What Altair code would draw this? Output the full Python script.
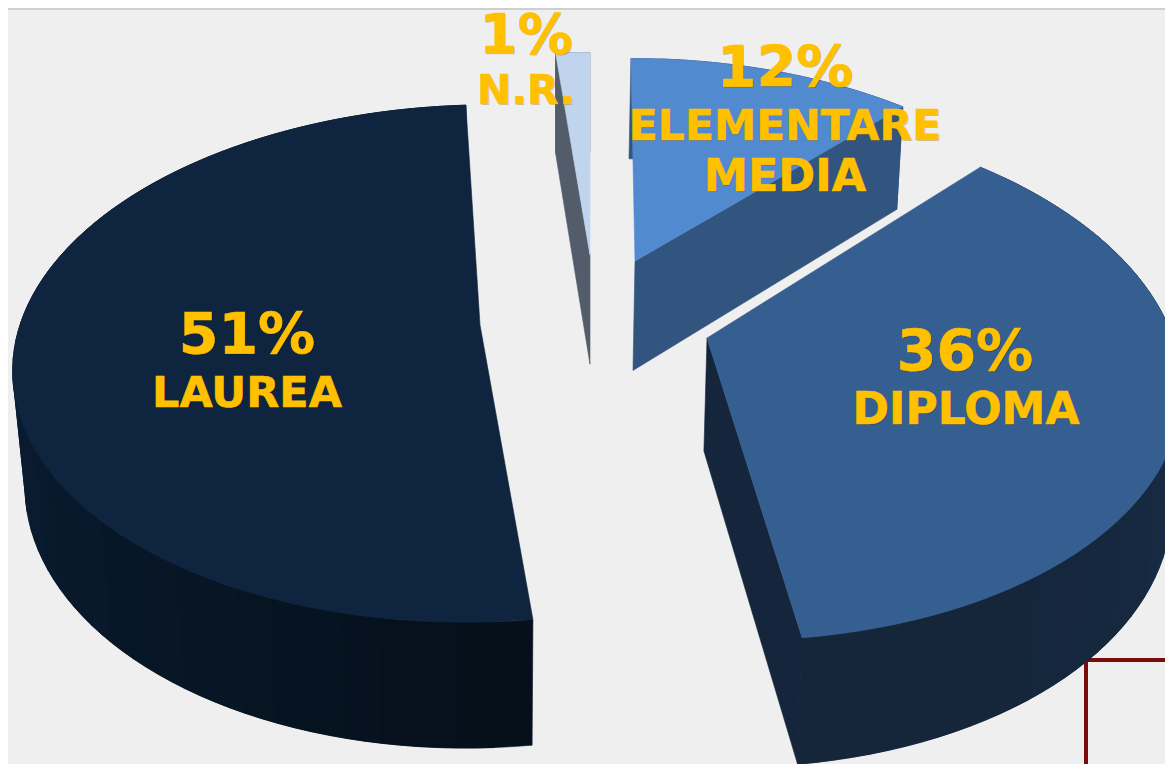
import math
import altair as alt
import pandas as pd

# values
slice_names = ["ELEMENTARE MEDIA", "DIPLOMA", "LAUREA", "N.R."]
shares = [12.0, 36.0, 51.0, 1.0]
tops = ["#528ad0", "#365f91", "#0f243e", "#c0d4ee"]
faces = ["#32557f", "#15263c", "#0a1c30", "#525c6a"]
side_near = ["#32557f", "#1c3450", "#05101b", "#525c6a"]
side_far = ["#32557f", "#15263b", "#0c2038", "#525c6a"]
apex_x = [635, 707, 480, 590]
apex_y = [261, 338, 325, 255]
radius_x = [449, 466, 460, 650]
radius_y = [240, 259, 253, 240]
tilt = [0.185, 0.144, 0.149, 0.185]
shear = [0.02, 0.09, -0.05, 0.0]
converge = [0.985, 0.985, 0.975, 1.0]

depth_base = 100
depth_slope = 0.045
vanish_x = 500

label_text = ["51%", "LAUREA", "36%", "DIPLOMA", "12%", "ELEMENTARE", "MEDIA", "1%", "N.R."]
label_x = [247, 247, 965, 966, 785, 785, 785, 526, 526]
label_y = [354, 407, 371, 424, 87, 140, 191, 53, 104]
label_size = [57, 43, 57, 44, 57, 42.5, 44.5, 55, 41]

W, H = 1157, 756


def top_point(i, deg):
    t = math.radians(deg)
    u, v = math.sin(t), -math.cos(t)
    w = 1 - tilt[i] * v
    dy = radius_y[i] * v / w
    return apex_x[i] + radius_x[i] * u / w + shear[i] * dy, apex_y[i] + dy


def bottom(i, p):
    x, y = p
    return vanish_x + (x - vanish_x) * converge[i], y + depth_base + depth_slope * (y - 50)


def mix(a, b, f):
    ca = [int(a[k:k + 2], 16) for k in (1, 3, 5)]
    cb = [int(b[k:k + 2], 16) for k in (1, 3, 5)]
    return "#%02x%02x%02x" % tuple(round(x + (y - x) * f) for x, y in zip(ca, cb))


rows = []
pid = 0


def poly(points, color):
    global pid
    pid += 1
    closed = list(points) + [points[0]]
    for k, (x, y) in enumerate(closed):
        rows.append({"x": x, "y": y, "pid": pid, "ord": k, "col": color})


starts = []
acc = 0.0
for s in shares:
    starts.append(acc * 3.6)
    acc += s

for i in [3, 0, 2, 1]:
    a0 = starts[i]
    a1 = a0 + shares[i] * 3.6
    apex = (apex_x[i], apex_y[i])
    # curved wall, painted in overlapping bands so that no seam shows
    n = max(1, int((a1 - a0) / 4))
    for k in reversed(range(n)):
        d0 = a0 + (a1 - a0) * k / n
        d1 = a0 + (a1 - a0) * (k + 1) / n
        d2 = min(a1, d1 + (a1 - a0) / n)
        sub = [d0 + (d2 - d0) * j / 4 for j in range(5)]
        upper = [top_point(i, d) for d in sub]
        f = min(1.0, abs(d0 - a0) / max(1.0, min(a1 - a0, 97.0)))
        poly(upper + [bottom(i, p) for p in reversed(upper)], mix(side_near[i], side_far[i], f))
    # cut walls
    pe = top_point(i, a1)
    ps = top_point(i, a0)
    if i in (0, 1):
        poly([apex, pe, bottom(i, pe), bottom(i, apex)], faces[i])
    if i == 3:
        poly([apex, ps, bottom(i, ps), bottom(i, apex)], faces[i])
    # top face
    m = max(2, int((a1 - a0) / 0.5))
    poly([apex] + [top_point(i, a0 + (a1 - a0) * k / m) for k in range(m + 1)], tops[i])

df = pd.DataFrame(rows)
labels = pd.DataFrame({"t": label_text, "x": label_x, "y": label_y, "fs": label_size})
frame = pd.DataFrame({"x": [1086, 1086], "x2": [1086, 1165], "y": [660, 660], "y2": [764, 660]})
top_line = pd.DataFrame({"x": [8], "x2": [1165], "y": [9], "y2": [9]})

xs = alt.Scale(domain=[8, 8 + W], nice=False, zero=False)
ys = alt.Scale(domain=[8 + H, 8], nice=False, zero=False)
X = alt.X("x:Q", scale=xs, axis=None)
Y = alt.Y("y:Q", scale=ys, axis=None)

rules = alt.Chart(frame).mark_rule(color="#7a0c0c", strokeWidth=4, clip=True).encode(
    x=X, y=Y, x2="x2:Q", y2="y2:Q")
line = alt.Chart(top_line).mark_rule(color="#cfcfcf", strokeWidth=2, clip=True).encode(
    x=X, y=Y, x2="x2:Q", y2="y2:Q")
shapes = alt.Chart(df).mark_line(strokeWidth=0.6, clip=True).encode(
    x=X, y=Y,
    detail="pid:N",
    order="ord:Q",
    stroke=alt.Stroke("col:N", scale=None),
    fill=alt.Fill("col:N", scale=None),
)
shadow = alt.Chart(labels).mark_text(
    font="DejaVu Sans", fontWeight="bold", color="#000000", opacity=0.2,
    align="center", baseline="alphabetic", dx=1, dy=1).encode(
    x=X, y=Y, text="t:N", size=alt.Size("fs:Q", scale=None))
text = alt.Chart(labels).mark_text(
    font="DejaVu Sans", fontWeight="bold", color="#ffc000",
    stroke="#ffc000", strokeWidth=0.6,
    align="center", baseline="alphabetic").encode(
    x=X, y=Y, text="t:N", size=alt.Size("fs:Q", scale=None))

chart = (
    alt.layer(line, rules, shapes, shadow, text)
    .properties(width=W, height=H, background="#efefef", padding=0,
                autosize=alt.AutoSizeParams(type="none"))
    .configure_view(fill="#efefef", strokeWidth=0)
)
chart.save("out.html", embed_options={"renderer": "svg", "actions": False})
